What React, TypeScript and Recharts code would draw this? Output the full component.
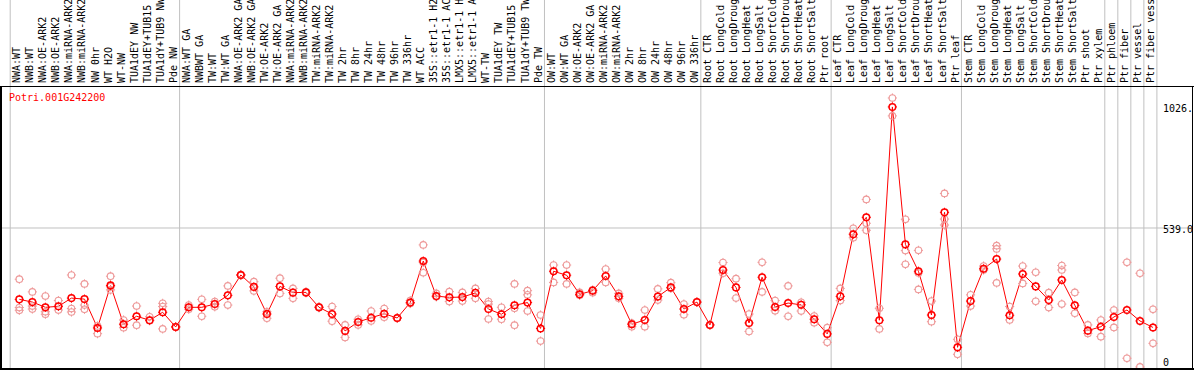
import React from "react";
import { ComposedChart, Line, XAxis, YAxis, ReferenceLine } from "recharts";

const GENE = "Potri.001G242200";

const SAMPLES = [
  "NWA:WT", "NWB:WT", "NWA:OE-ARK2", "NWB:OE-ARK2", "NWA:miRNA-ARK2", "NWB:miRNA-ARK2",
  "NW 0hr", "WT H2O", "WT-NW", "TUA1dEY NW", "TUA1dEY+TUB15 NW", "TUA1dY+TUB9 NW", "Pde NW",
  "NWA:WT GA", "NWBWT GA", "TW:WT", "TW:WT GA", "NWA:OE-ARK2 GA", "NWB:OE-ARK2 GA",
  "TW:OE-ARK2", "TW:OE-ARK2 GA", "NWA:miRNA-ARK2", "NWB:miRNA-ARK2", "TW:miRNA-ARK2",
  "TW:miRNA-ARK2 GA", "TW 2hr", "TW 8hr", "TW 24hr", "TW 48hr", "TW 96hr", "TW 336hr",
  "WT ACC", "35S::etr1-1 H2O", "35S::etr1-1 ACC", "LMX5::etr1-1 H2O", "LMX5::etr1-1 ACC",
  "WT-TW", "TUA1dEY TW", "TUA1dEY+TUB15 TW", "TUA1dY+TUB9 TW", "Pde TW",
  "OW:WT", "OW:WT GA", "OW:OE-ARK2", "OW:OE-ARK2 GA", "OW:miRNA-ARK2", "OW:miRNA-ARK2 GA",
  "OW 2hr", "OW 8hr", "OW 24hr", "OW 48hr", "OW 96hr", "OW 336hr",
  "Root CTR", "Root LongCold", "Root LongDrought", "Root LongHeat", "Root LongSalt",
  "Root ShortCold", "Root ShortDrought", "Root ShortHeat", "Root ShortSalt", "Ptr root",
  "Leaf CTR", "Leaf LongCold", "Leaf LongDrought", "Leaf LongHeat", "Leaf LongSalt",
  "Leaf ShortCold", "Leaf ShortDrought", "Leaf ShortHeat", "Leaf ShortSalt", "Ptr leaf",
  "Stem CTR", "Stem LongCold", "Stem LongDrought", "Stem LongHeat", "Stem LongSalt",
  "Stem ShortCold", "Stem ShortDrought", "Stem ShortHeat", "Stem ShortSalt", "Ptr shoot",
  "Ptr xylem", "Ptr phloem", "Ptr fiber", "Ptr vessel", "Ptr fiber vessel",
];

const MEAN = [
  252, 241, 220, 224, 257, 253, 137, 308, 152, 184,
  168, 200, 141, 220, 220, 233, 268, 350, 302, 193,
  304, 279, 280, 220, 193, 125, 161, 178, 194, 177,
  239, 406, 265, 260, 261, 278, 213, 192, 228, 239,
  135, 365, 349, 272, 287, 346, 264, 152, 169, 263,
  300, 213, 241, 149, 370, 300, 157, 341, 221, 237,
  230, 172, 113, 264, 514, 582, 168, 1026, 473, 365,
  189, 602, 59, 245, 375, 414, 188, 354, 304, 249,
  330, 228, 126, 142, 181, 209, 165, 139,
];

const REP_A = [
  333, 282, 265, 247, 350, 314, 145, 345, 169, 225,
  182, 236, 141, 229, 252, 243, 306, 352, 323, 202,
  337, 296, 282, 222, 223, 149, 172, 205, 215, 177,
  247, 471, 276, 283, 280, 296, 243, 220, 314, 287,
  189, 390, 390, 280, 279, 374, 276, 142, 209, 294,
  319, 233, 241, 149, 400, 335, 193, 401, 247, 306,
  240, 185, 138, 296, 538, 654, 216, 1062, 574, 449,
  245, 678, 91, 270, 386, 468, 223, 386, 361, 279,
  388, 280, 149, 169, 209, 401, 357, 212,
];

const REP_B = [
  219, 225, 202, 209, 215, 229, 114, 303, 138, 148,
  166, 223, 141, 212, 184, 222, 229, 348, 286, 176,
  276, 256, 278, 218, 164, 99, 149, 165, 180, 177,
  235, 400, 262, 243, 245, 256, 233, 172, 216, 270,
  84, 320, 314, 268, 290, 320, 256, 156, 142, 249,
  296, 190, 241, 149, 357, 257, 123, 282, 206, 184,
  205, 158, 79, 247, 500, 558, 133, 990, 448, 358,
  162, 575, 31, 225, 370, 455, 169, 316, 244, 219,
  370, 196, 115, 102, 139, 15, -20, 75,
];

const REP_C: (number | null)[] = [
  208, 213, 192, null, 201, 212, null, 290, null, null,
  null, 133, null, null, null, null, null, null, null, null,
  null, null, null, null, null, null, null, null, null, null,
  null, 359, null, null, null, null, 173, null, 148, 205,
  null, null, null, null, null, null, null, null, null, null,
  null, null, null, null, null, null, null, null, null, null,
  null, null, null, null, null, 530, null, null, 393, 292,
  null, 551, null, null, null, 318, null, null, null, null,
  233, null, null, null, null, null, null, null,
];

// sample index after which a separator is drawn
const GROUP_ENDS = [0, 13, 41, 53, 63, 73, 84, 85, 86, 87, 88];

const Y_TICKS = [0, 539, 1026];
const Y_TICK_LABELS = ["0", "539.0", "1026."];

const FONT = '"DejaVu Sans Mono", monospace';
const GRID = "#c0c0c0";

const data = SAMPLES.map((name, i) => ({
  x: i + 1,
  name,
  mean: MEAN[i],
  a: REP_A[i],
  b: REP_B[i],
  c: REP_C[i],
}));

function SampleTick(props: any) {
  const { x, payload } = props;
  return (
    <text
      transform={`translate(${x + 1},83) rotate(-90)`}
      textAnchor="start"
      fontSize={10}
      fontFamily={FONT}
      fill="#000"
    >
      {SAMPLES[payload.value - 1]}
    </text>
  );
}

function ValueTick(props: any) {
  const { y, payload } = props;
  const idx = Y_TICKS.indexOf(payload.value);
  return (
    <text x={1163} y={Math.min(y + 5, 366)} fontSize={10} fontFamily={FONT} fill="#000">
      {Y_TICK_LABELS[idx]}
    </text>
  );
}

function makeDot(color: string, width: number) {
  return (p: any) => {
    const key = `d-${p.index}`;
    if (p.value == null || p.cy == null || isNaN(p.cy)) return <g key={key} />;
    const { cx, cy } = p;
    const r = 3.3;
    return (
      <g key={key}>
        <circle cx={cx} cy={cy} r={r} fill="none" stroke={color} strokeWidth={width} />
        <line x1={cx} y1={cy - r - 1.3} x2={cx} y2={cy - r + 0.5} stroke={color} strokeWidth={1} />
        <line x1={cx} y1={cy + r - 0.5} x2={cx} y2={cy + r + 1.3} stroke={color} strokeWidth={1} />
        <line x1={cx - r - 1.3} y1={cy} x2={cx - r + 0.5} y2={cy} stroke={color} strokeWidth={1} />
        <line x1={cx + r - 0.5} y1={cy} x2={cx + r + 1.3} y2={cy} stroke={color} strokeWidth={1} />
      </g>
    );
  };
}

const repDot = makeDot("#ee9a9a", 1.1);
const meanDot = makeDot("#ff0000", 1.5);

const vLine = (p: any) => (
  <line x1={p.x1} y1={0} x2={p.x2} y2={Math.max(p.y1, p.y2)} stroke={GRID} strokeWidth={1} />
);

export default function App() {
  return (
    <div style={{ position: "relative", width: 1194, height: 370, background: "#fff" }}>
      <style>{`body{margin:0}`}</style>
      <ComposedChart
        width={1194}
        height={370}
        data={data}
        margin={{ top: 0, right: 0, left: 1, bottom: 1 }}
      >
        <XAxis
          dataKey="x"
          type="number"
          orientation="top"
          height={86}
          domain={[-0.406, 91.07]}
          ticks={SAMPLES.map((_, i) => i + 1)}
          interval={0}
          axisLine={false}
          tickLine={false}
          tick={<SampleTick />}
          allowDataOverflow
        />
        <YAxis
          orientation="right"
          width={1}
          domain={[-28.2, 1110.2]}
          ticks={Y_TICKS}
          interval={0}
          axisLine={false}
          tickLine={false}
          tick={<ValueTick />}
          allowDataOverflow
        />
        <ReferenceLine y={539} stroke={GRID} strokeWidth={1} />
        {GROUP_ENDS.map((n) => (
          <ReferenceLine key={n} x={n + 0.3} shape={vLine} />
        ))}
        <Line dataKey="a" stroke="none" dot={repDot} activeDot={false} isAnimationActive={false} />
        <Line dataKey="b" stroke="none" dot={repDot} activeDot={false} isAnimationActive={false} />
        <Line dataKey="c" stroke="none" dot={repDot} activeDot={false} isAnimationActive={false} />
        <Line
          dataKey="mean"
          stroke="#ff0000"
          strokeWidth={1}
          dot={meanDot}
          activeDot={false}
          isAnimationActive={false}
        />
      </ComposedChart>
      <svg
        width={1194}
        height={370}
        style={{ position: "absolute", left: 0, top: 0, pointerEvents: "none" }}
      >
        <line x1={0} y1={86.5} x2={1194} y2={86.5} stroke="#000" strokeWidth={1} />
        <line x1={1} y1={86} x2={1} y2={370} stroke="#000" strokeWidth={2} />
        <line x1={0} y1={369} x2={1194} y2={369} stroke="#000" strokeWidth={2} />
        <line x1={1192.5} y1={86} x2={1192.5} y2={370} stroke="#000" strokeWidth={1} />
        <text x={9} y={100.5} fontSize={10} fontFamily={FONT} fill="#ff0000">
          {GENE}
        </text>
      </svg>
    </div>
  );
}
